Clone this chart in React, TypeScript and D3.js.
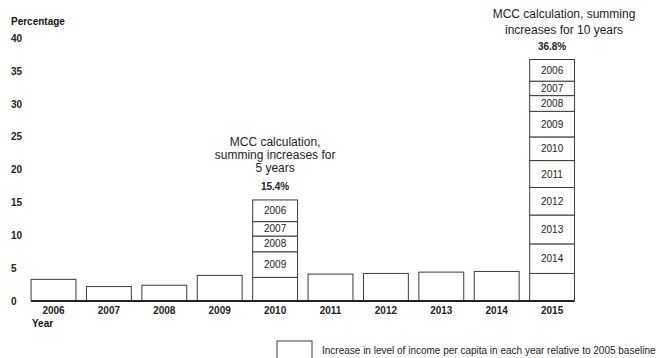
import React from "react";
import * as d3 from "d3";

const years = ["2006", "2007", "2008", "2009", "2010", "2011", "2012", "2013", "2014", "2015"];
const increases = [3.3, 2.2, 2.4, 3.9, 3.6, 4.1, 4.2, 4.4, 4.5, 4.2];
const yTicks = [0, 5, 10, 15, 20, 25, 30, 35, 40];
const stackYears = ["2010", "2015"];
const stackTotals = ["15.4%", "36.8%"];
const annotations = [
  ["MCC calculation,", "summing increases for", "5 years"],
  ["MCC calculation, summing", "increases for 10 years"],
];
const legendLabel = "Increase in level of income per capita in each year relative to 2005 baseline";
const yTitle = "Percentage";
const xTitle = "Year";

const W = 666;
const H = 358;
const FONT = "'Liberation Sans', Arial, Helvetica, sans-serif";

export default function App() {
  const x = d3.scaleBand<string>().domain(years).range([25.8, 579.8]).paddingInner(0.19).paddingOuter(0.095);
  const y = d3.scaleLinear().domain([0, 40]).range([301, 38.5]);
  const bw = x.bandwidth();
  const stroke = "#3a3a3a";

  const stacks = stackYears.map((yr, si) => {
    const idx = years.indexOf(yr);
    const order = [idx, ...d3.range(idx - 1, -1, -1)];
    let cum = 0;
    const segs = order.map((i, k) => {
      const s = { year: years[i], y0: cum, y1: cum + increases[i], label: k > 0 };
      cum += increases[i];
      return s;
    });
    return { yr, segs, total: cum, totalLabel: stackTotals[si], ann: annotations[si] };
  });

  return (
    <svg width={W} height={H} style={{ position: "absolute", left: 0, top: 0, background: "#fff" }} fontFamily={FONT}>
      <text x={11} y={25} fontSize={10} fontWeight="bold" fill="#111">{yTitle}</text>
      {yTicks.map((t) => (
        <text key={t} x={11} y={y(t)} dy="0.35em" fontSize={10} fontWeight="bold" fill="#222">{t}</text>
      ))}
      {years.map((yr, i) => {
        if (stackYears.includes(yr)) return null;
        return (
          <rect key={yr} x={x(yr)} y={y(increases[i])} width={bw} height={y(0) - y(increases[i])} fill="#fff" stroke={stroke} strokeWidth={1} />
        );
      })}
      {stacks.map((s) => (
        <g key={s.yr}>
          {s.segs.map((seg) => (
            <g key={seg.year}>
              <rect x={x(s.yr)} y={y(seg.y1)} width={bw} height={y(seg.y0) - y(seg.y1)} fill="#fff" stroke={stroke} strokeWidth={1} />
              {seg.label && (
                <text x={(x(s.yr) as number) + bw / 2} y={(y(seg.y0) + y(seg.y1)) / 2} dy="0.35em" textAnchor="middle" fontSize={10} fill="#222">{seg.year}</text>
              )}
            </g>
          ))}
          <text x={(x(s.yr) as number) + bw / 2} y={y(s.total) - 10} textAnchor="middle" fontSize={10} fontWeight="bold" fill="#222">{s.totalLabel}</text>
        </g>
      ))}
      {stacks[0].ann.map((line, i) => (
        <text key={line} x={(x("2010") as number) + bw / 2} y={146 + i * 12.8} textAnchor="middle" fontSize={12} fill="#222">{line}</text>
      ))}
      {stacks[1].ann.map((line, i) => (
        <text key={line} x={564} y={18 + i * 16} textAnchor="middle" fontSize={12} fill="#222">{line}</text>
      ))}
      <line x1={x("2006")} x2={(x("2015") as number) + bw} y1={y(0)} y2={y(0)} stroke="#222" strokeWidth={2} />
      {years.map((yr) => (
        <text key={yr} x={(x(yr) as number) + bw / 2} y={314} textAnchor="middle" fontSize={10} fontWeight="bold" fill="#222">{yr}</text>
      ))}
      <text x={32} y={327} fontSize={10} fontWeight="bold" fill="#111">{xTitle}</text>
      <rect x={277} y={341} width={35} height={25} fill="#fff" stroke={stroke} strokeWidth={1} />
      <text x={322} y={354} fontSize={10} fill="#222">{legendLabel}</text>
    </svg>
  );
}
